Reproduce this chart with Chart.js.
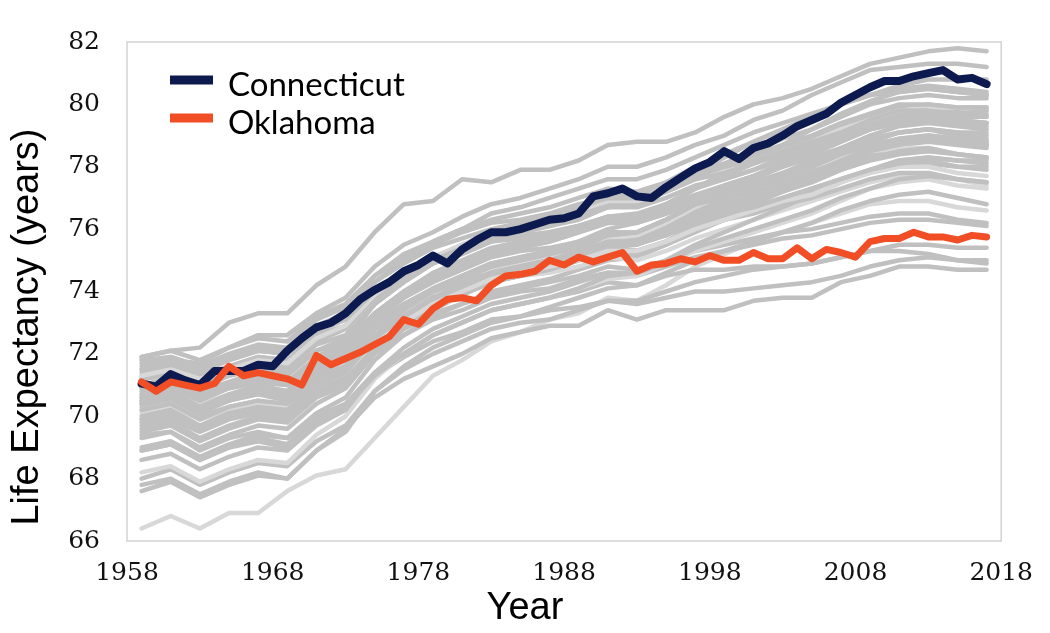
<!DOCTYPE html>
<html>
<head>
<meta charset="utf-8">
<script src="https://cdn.jsdelivr.net/npm/chart.js@4.4.1/dist/chart.umd.min.js"></script>
<style>
  html, body { margin: 0; padding: 0; background: #fff; }
  #wrap { width: 1050px; height: 633px; }
</style>
</head>
<body>
<div id="wrap"><canvas id="lifeChart" width="1050" height="633"></canvas></div>
<script>
// ── Data ───────────────────────────────────────────────────
const years = [1959, 1960, 1961, 1962, 1963, 1964, 1965, 1966, 1967, 1968,
               1969, 1970, 1971, 1972, 1973, 1974, 1975, 1976, 1977, 1978,
               1979, 1980, 1981, 1982, 1983, 1984, 1985, 1986, 1987, 1988,
               1989, 1990, 1991, 1992, 1993, 1994, 1995, 1996, 1997, 1998,
               1999, 2000, 2001, 2002, 2003, 2004, 2005, 2006, 2007, 2008,
               2009, 2010, 2011, 2012, 2013, 2014, 2015, 2016, 2017];

const connecticut = [71.05, 70.95, 71.35, 71.15, 71.0, 71.45, 71.45, 71.45, 71.65, 71.6,
                     72.1, 72.5, 72.85, 73.0, 73.3, 73.75, 74.05, 74.3, 74.65, 74.85,
                     75.15, 74.9, 75.35, 75.65, 75.9, 75.9, 76.0, 76.15, 76.3, 76.35,
                     76.5, 77.05, 77.15, 77.3, 77.05, 77.0, 77.35, 77.65, 77.95, 78.15,
                     78.5, 78.25, 78.6, 78.75, 79.0, 79.3, 79.5, 79.7, 80.05, 80.3,
                     80.55, 80.75, 80.75, 80.9, 81.0, 81.1, 80.8, 80.85, 80.65];

const oklahoma = [71.1, 70.8, 71.1, 71.0, 70.9, 71.05, 71.6, 71.3, 71.4, 71.3,
                  71.2, 71.0, 71.95, 71.65, 71.85, 72.05, 72.3, 72.55, 73.1, 72.95,
                  73.45, 73.75, 73.8, 73.7, 74.2, 74.5, 74.55, 74.65, 75.0, 74.85,
                  75.1, 74.95, 75.1, 75.25, 74.65, 74.85, 74.9, 75.05, 74.95, 75.15,
                  75.0, 75.0, 75.25, 75.05, 75.05, 75.4, 75.05, 75.35, 75.25, 75.1,
                  75.6, 75.7, 75.7, 75.9, 75.75, 75.75, 75.65, 75.8, 75.75];

// other states, read every second year
const grayYears = [1959, 1961, 1963, 1965, 1967, 1969, 1971, 1973, 1975, 1977,
                   1979, 1981, 1983, 1985, 1987, 1989, 1991, 1993, 1995, 1997,
                   1999, 2001, 2003, 2005, 2007, 2009, 2011, 2013, 2015, 2017];

const otherStates = [
  [71.9, 72.1, 72.2, 73.0, 73.3, 73.3, 74.2, 74.8, 75.9, 76.8, 76.9, 77.6, 77.5, 77.9, 77.9, 78.2, 78.7, 78.8, 78.8, 79.1, 79.6, 80.0, 80.2, 80.5, 80.9, 81.3, 81.5, 81.7, 81.8, 81.7],
  [71.6, 71.8, 71.7, 72.2, 72.6, 72.6, 73.3, 73.8, 74.8, 75.5, 75.9, 76.4, 76.8, 77.0, 77.3, 77.6, 78.0, 78.0, 78.3, 78.7, 79.0, 79.5, 79.8, 80.3, 80.7, 81.1, 81.2, 81.3, 81.3, 81.2],
  [71.9, 72.1, 71.8, 72.2, 72.5, 72.4, 73.2, 73.6, 74.5, 75.2, 75.6, 76.0, 76.3, 76.5, 76.7, 77.0, 77.3, 77.2, 77.5, 77.9, 78.1, 78.4, 78.7, 79.0, 79.4, 79.7, 80.0, 80.0, 79.9, 79.9],
  [71.8, 71.9, 71.6, 71.9, 72.2, 72.1, 72.9, 73.3, 74.3, 74.9, 75.4, 75.7, 76.0, 76.2, 76.4, 76.7, 77.0, 77.0, 77.2, 77.6, 77.8, 78.1, 78.4, 78.7, 79.0, 79.3, 79.6, 79.7, 79.6, 79.6],
  [71.7, 71.9, 71.6, 72.0, 72.3, 72.2, 73.1, 73.5, 74.5, 75.1, 75.5, 75.9, 76.2, 76.3, 76.5, 76.8, 77.0, 77.0, 77.3, 77.7, 78.0, 78.2, 78.5, 78.8, 79.1, 79.5, 79.8, 79.8, 79.7, 79.8],
  [71.8, 71.8, 71.5, 71.8, 72.1, 72.0, 72.7, 73.1, 74.0, 74.6, 75.0, 75.4, 75.6, 75.8, 75.9, 76.1, 76.3, 76.2, 76.5, 76.8, 77.0, 77.2, 77.4, 77.6, 77.9, 78.2, 78.4, 78.5, 78.4, 78.3],
  [71.5, 71.7, 71.4, 71.8, 72.1, 72.0, 72.8, 73.3, 74.3, 75.0, 75.6, 76.0, 76.5, 76.7, 77.0, 77.3, 77.6, 77.6, 77.9, 78.3, 78.7, 79.1, 79.4, 79.7, 80.0, 80.3, 80.4, 80.5, 80.4, 80.3],
  [71.3, 71.5, 71.2, 71.5, 71.8, 71.7, 72.5, 72.9, 73.9, 74.6, 75.1, 75.5, 75.9, 76.1, 76.3, 76.6, 76.9, 76.9, 77.2, 77.6, 77.9, 78.2, 78.5, 78.8, 79.2, 79.5, 79.8, 79.9, 79.9, 79.8],
  [71.4, 71.6, 71.2, 71.6, 71.9, 71.8, 72.6, 72.9, 73.9, 74.6, 75.1, 75.5, 75.8, 76.0, 76.2, 76.4, 76.7, 76.7, 77.0, 77.4, 77.6, 77.9, 78.2, 78.5, 78.9, 79.2, 79.4, 79.5, 79.4, 79.4],
  [71.0, 71.2, 70.8, 71.1, 71.4, 71.3, 72.1, 72.5, 73.6, 74.4, 75.0, 75.5, 75.9, 76.1, 76.4, 76.7, 77.1, 77.1, 77.5, 78.0, 78.4, 78.8, 79.2, 79.6, 80.0, 80.3, 80.5, 80.6, 80.5, 80.4],
  [70.9, 71.0, 70.6, 70.9, 71.1, 71.0, 71.9, 72.4, 73.6, 74.3, 74.9, 75.3, 75.7, 75.9, 76.1, 76.3, 76.7, 76.8, 77.2, 77.8, 78.3, 78.8, 79.2, 79.6, 80.0, 80.3, 80.6, 80.8, 80.8, 80.8],
  [70.6, 70.8, 70.3, 70.6, 70.9, 70.8, 71.6, 72.0, 73.1, 73.8, 74.3, 74.7, 75.1, 75.3, 75.4, 75.6, 76.0, 76.2, 76.7, 77.3, 77.8, 78.2, 78.7, 79.2, 79.7, 80.1, 80.4, 80.5, 80.4, 80.3],
  [70.5, 70.7, 70.2, 70.5, 70.8, 70.7, 71.4, 71.8, 72.8, 73.5, 74.0, 74.4, 74.8, 75.0, 75.2, 75.4, 75.8, 75.9, 76.3, 76.8, 77.3, 77.7, 78.1, 78.5, 79.0, 79.4, 79.7, 79.8, 79.8, 79.7],
  [71.2, 71.3, 70.9, 71.3, 71.6, 71.5, 72.3, 72.6, 73.6, 74.3, 74.9, 75.3, 75.7, 75.9, 76.1, 76.4, 76.8, 76.8, 77.2, 77.7, 78.1, 78.5, 78.9, 79.2, 79.6, 80.0, 80.2, 80.3, 80.2, 80.2],
  [71.3, 71.4, 71.0, 71.3, 71.5, 71.4, 72.1, 72.4, 73.3, 74.0, 74.5, 74.8, 75.2, 75.4, 75.6, 75.9, 76.2, 76.2, 76.5, 76.9, 77.2, 77.5, 77.8, 78.1, 78.5, 78.8, 79.1, 79.2, 79.1, 79.1],
  [71.0, 71.2, 70.8, 71.0, 71.3, 71.1, 71.8, 72.1, 73.0, 73.6, 74.0, 74.3, 74.6, 74.8, 75.0, 75.3, 75.6, 75.6, 75.8, 76.2, 76.5, 76.7, 77.0, 77.3, 77.6, 77.9, 78.1, 78.2, 78.0, 77.9],
  [70.7, 70.9, 70.5, 70.9, 71.1, 71.0, 71.8, 72.2, 73.2, 73.9, 74.5, 74.9, 75.3, 75.5, 75.7, 76.0, 76.4, 76.4, 76.8, 77.3, 77.7, 78.1, 78.5, 78.8, 79.2, 79.5, 79.7, 79.8, 79.7, 79.6],
  [70.4, 70.6, 70.2, 70.6, 70.9, 70.8, 71.6, 72.0, 73.1, 73.8, 74.4, 74.8, 75.2, 75.4, 75.6, 75.9, 76.2, 76.3, 76.6, 77.0, 77.4, 77.7, 78.1, 78.4, 78.8, 79.2, 79.4, 79.5, 79.4, 79.3],
  [70.6, 70.8, 70.3, 70.7, 71.0, 70.8, 71.5, 71.8, 72.8, 73.5, 74.1, 74.5, 74.9, 75.1, 75.3, 75.6, 75.9, 75.9, 76.3, 76.8, 77.1, 77.4, 77.7, 78.0, 78.4, 78.7, 78.9, 79.0, 78.9, 78.8],
  [70.2, 70.4, 69.9, 70.3, 70.5, 70.4, 71.1, 71.5, 72.5, 73.2, 73.8, 74.2, 74.6, 74.8, 75.0, 75.2, 75.5, 75.5, 75.8, 76.3, 76.6, 76.9, 77.2, 77.5, 77.9, 78.3, 78.5, 78.6, 78.4, 78.3],
  [70.0, 70.2, 69.7, 70.1, 70.3, 70.2, 71.0, 71.4, 72.5, 73.2, 73.8, 74.2, 74.6, 74.8, 75.0, 75.2, 75.5, 75.6, 75.9, 76.5, 76.9, 77.3, 77.7, 78.0, 78.4, 78.8, 79.1, 79.2, 79.1, 79.0],
  [70.2, 70.4, 69.9, 70.2, 70.4, 70.3, 71.0, 71.4, 72.4, 73.0, 73.6, 74.0, 74.4, 74.6, 74.8, 75.0, 75.3, 75.3, 75.6, 76.0, 76.3, 76.6, 76.9, 77.1, 77.5, 77.8, 78.0, 78.0, 77.8, 77.7],
  [70.5, 70.7, 70.2, 70.6, 70.8, 70.6, 71.3, 71.6, 72.6, 73.2, 73.8, 74.1, 74.5, 74.7, 74.8, 75.1, 75.4, 75.3, 75.6, 76.0, 76.3, 76.5, 76.8, 77.0, 77.3, 77.6, 77.8, 77.8, 77.6, 77.5],
  [70.4, 70.6, 70.1, 70.5, 70.7, 70.5, 71.2, 71.6, 72.6, 73.2, 73.8, 74.1, 74.5, 74.6, 74.8, 75.1, 75.4, 75.3, 75.6, 76.1, 76.4, 76.7, 77.0, 77.3, 77.6, 77.9, 78.1, 78.1, 78.0, 78.0],
  [69.6, 69.8, 69.3, 69.7, 70.0, 69.9, 70.7, 71.1, 72.2, 72.9, 73.5, 73.9, 74.3, 74.5, 74.7, 75.0, 75.3, 75.3, 75.6, 76.1, 76.5, 76.9, 77.3, 77.7, 78.1, 78.5, 78.8, 78.9, 78.8, 78.7],
  [69.9, 70.1, 69.6, 70.0, 70.3, 70.1, 70.9, 71.3, 72.5, 73.2, 73.7, 74.0, 74.4, 74.6, 74.8, 75.1, 75.5, 75.6, 76.0, 76.4, 76.7, 77.0, 77.4, 77.7, 78.1, 78.5, 78.7, 78.9, 78.8, 78.7],
  [69.8, 70.0, 69.6, 70.0, 70.3, 70.2, 71.0, 71.5, 72.6, 73.4, 74.0, 74.4, 74.8, 75.0, 75.2, 75.5, 75.8, 75.9, 76.3, 76.8, 77.2, 77.6, 78.0, 78.4, 78.8, 79.2, 79.5, 79.6, 79.5, 79.4],
  [69.3, 69.5, 69.0, 69.4, 69.7, 69.6, 70.4, 70.9, 72.0, 72.8, 73.4, 73.9, 74.3, 74.5, 74.8, 75.1, 75.4, 75.5, 75.9, 76.4, 76.8, 77.1, 77.5, 77.8, 78.2, 78.6, 78.9, 79.0, 78.9, 78.8],
  [69.5, 69.7, 69.2, 69.6, 69.9, 69.8, 70.6, 71.0, 72.1, 72.9, 73.5, 73.9, 74.3, 74.5, 74.7, 75.0, 75.2, 75.2, 75.5, 75.9, 76.3, 76.6, 76.9, 77.2, 77.6, 77.9, 78.2, 78.3, 78.2, 78.2],
  [68.9, 69.1, 68.6, 69.0, 69.3, 69.1, 69.9, 70.3, 71.3, 72.0, 72.6, 73.0, 73.4, 73.6, 73.8, 74.1, 74.5, 74.6, 75.0, 75.5, 75.9, 76.3, 76.7, 77.1, 77.5, 77.9, 78.2, 78.3, 78.2, 78.1],
  [68.6, 68.8, 68.3, 68.7, 69.0, 68.9, 69.7, 70.2, 71.4, 72.2, 72.8, 73.2, 73.6, 73.8, 74.0, 74.3, 74.6, 74.6, 74.9, 75.4, 75.7, 76.0, 76.3, 76.6, 77.0, 77.3, 77.6, 77.7, 77.6, 77.5],
  [68.2, 68.4, 67.9, 68.3, 68.6, 68.5, 69.4, 70.0, 71.2, 72.0, 72.6, 73.0, 73.4, 73.6, 73.8, 74.1, 74.4, 74.5, 74.9, 75.3, 75.6, 75.9, 76.2, 76.5, 76.9, 77.3, 77.5, 77.6, 77.4, 77.3],
  [67.6, 67.9, 67.4, 67.8, 68.1, 68.0, 68.9, 69.5, 70.8, 71.6, 72.2, 72.6, 73.0, 73.2, 73.5, 73.8, 74.1, 74.2, 74.6, 75.0, 75.3, 75.6, 75.9, 76.2, 76.6, 76.9, 77.1, 77.2, 77.0, 76.8],
  [68.0, 68.3, 67.8, 68.2, 68.5, 68.4, 69.2, 69.7, 70.8, 71.5, 72.0, 72.4, 72.8, 73.0, 73.1, 73.4, 73.7, 73.7, 74.0, 74.3, 74.5, 74.7, 74.8, 74.9, 75.1, 75.3, 75.5, 75.5, 75.4, 75.4],
  [67.8, 68.0, 67.5, 67.9, 68.2, 68.0, 68.9, 69.6, 70.6, 71.2, 71.6, 72.0, 72.5, 72.7, 72.9, 72.9, 73.4, 73.1, 73.4, 73.4, 73.4, 73.7, 73.8, 73.8, 74.3, 74.5, 74.8, 74.8, 74.7, 74.7],
  [68.9, 69.1, 68.6, 69.0, 69.2, 69.0, 69.8, 70.3, 71.3, 71.9, 72.4, 72.7, 73.1, 73.2, 73.4, 73.5, 73.7, 73.6, 73.8, 74.0, 74.0, 74.1, 74.2, 74.3, 74.5, 74.8, 75.0, 75.1, 75.0, 75.0],
  [69.4, 69.5, 68.9, 69.3, 69.5, 69.3, 70.0, 70.4, 71.4, 72.0, 72.6, 73.0, 73.4, 73.6, 73.8, 74.0, 74.3, 74.2, 74.5, 74.7, 74.7, 74.8, 74.8, 74.9, 75.1, 75.3, 75.3, 75.2, 75.0, 74.9],
  [69.9, 70.1, 69.6, 70.0, 70.2, 70.0, 70.7, 71.1, 72.0, 72.6, 73.1, 73.4, 73.8, 74.0, 74.1, 74.4, 74.6, 74.5, 74.8, 75.1, 75.3, 75.5, 75.7, 75.8, 76.0, 76.2, 76.3, 76.3, 76.2, 76.1],
  [70.3, 70.5, 70.0, 70.3, 70.5, 70.3, 71.0, 71.3, 72.2, 72.8, 73.3, 73.6, 73.9, 74.1, 74.3, 74.5, 74.8, 74.7, 75.0, 75.3, 75.5, 75.7, 75.9, 76.0, 76.2, 76.4, 76.5, 76.5, 76.3, 76.2],
  [66.4, 66.8, 66.4, 66.9, 66.9, 67.6, 68.1, 68.3, 69.3, 70.3, 71.3, 71.8, 72.4, 72.7, 73.1, 73.3, 73.8, 73.7, 74.2, 74.8, 75.2, 75.6, 75.9, 76.2, 76.5, 76.8, 76.9, 76.9, 76.7, 76.6],
  [71.2, 71.4, 71.0, 71.4, 71.7, 71.6, 72.4, 72.8, 73.8, 74.5, 75.0, 75.4, 75.8, 76.0, 76.2, 76.5, 76.8, 76.9, 77.2, 77.6, 78.0, 78.3, 78.6, 78.9, 79.3, 79.6, 79.9, 80.0, 79.9, 79.9],
  [70.8, 71.0, 70.6, 71.0, 71.2, 71.1, 71.9, 72.3, 73.3, 74.0, 74.6, 75.0, 75.4, 75.6, 75.8, 76.1, 76.4, 76.5, 76.8, 77.3, 77.6, 77.9, 78.3, 78.6, 79.0, 79.3, 79.5, 79.6, 79.5, 79.4],
  [71.5, 71.6, 71.3, 71.6, 71.9, 71.8, 72.5, 72.9, 73.8, 74.4, 74.9, 75.2, 75.6, 75.7, 75.9, 76.1, 76.4, 76.4, 76.7, 77.1, 77.4, 77.7, 78.0, 78.3, 78.6, 78.9, 79.1, 79.2, 79.0, 78.9],
  [70.1, 70.3, 69.9, 70.2, 70.4, 70.3, 71.1, 71.5, 72.6, 73.3, 73.9, 74.3, 74.7, 74.9, 75.1, 75.4, 75.7, 75.8, 76.2, 76.7, 77.1, 77.4, 77.7, 78.0, 78.3, 78.5, 78.6, 78.6, 78.4, 78.3],
  [70.9, 71.1, 70.7, 71.0, 71.2, 71.0, 71.7, 72.0, 72.9, 73.6, 74.1, 74.5, 74.9, 75.1, 75.3, 75.6, 75.9, 75.9, 76.3, 76.7, 77.0, 77.3, 77.6, 77.9, 78.3, 78.6, 78.8, 78.9, 78.8, 78.7],
  [69.7, 69.9, 69.5, 69.9, 70.1, 70.0, 70.8, 71.2, 72.3, 73.0, 73.6, 74.0, 74.4, 74.6, 74.9, 75.2, 75.6, 75.7, 76.1, 76.6, 77.0, 77.4, 77.8, 78.2, 78.6, 79.0, 79.3, 79.4, 79.3, 79.2],
  [70.7, 70.8, 70.4, 70.7, 70.9, 70.7, 71.4, 71.7, 72.6, 73.2, 73.7, 74.0, 74.3, 74.5, 74.6, 74.8, 75.1, 75.0, 75.3, 75.7, 76.0, 76.3, 76.6, 76.9, 77.2, 77.5, 77.7, 77.8, 77.6, 77.4],
  [69.0, 69.2, 68.7, 69.1, 69.4, 69.3, 70.1, 70.6, 71.8, 72.6, 73.2, 73.6, 74.0, 74.2, 74.4, 74.7, 75.0, 75.1, 75.5, 76.0, 76.4, 76.8, 77.2, 77.6, 78.0, 78.4, 78.7, 78.8, 78.7, 78.6]
];

const xTicks = [1958, 1968, 1978, 1988, 1998, 2008, 2018];
const yTicks = [66, 68, 70, 72, 74, 76, 78, 80, 82];

// ── Styles ─────────────────────────────────────────────────
const GRAY = '#c0c0c0';
const GRAY_LIGHT = '#d8d8d8';
const lighterLines = [7, 21, 31, 39, 43, 46];
const CT_COLOR = '#0c1a50';
const OK_COLOR = '#f24e26';
const TICK_FONT = { family: '"DejaVu Serif", "Liberation Serif", serif', size: 25 };

const toPoints = (xs, ys) => ys.map((v, i) => ({ x: xs[i], y: v }));

const datasets = otherStates.map((vals, i) => ({
    label: '',
    data: toPoints(grayYears, vals),
    borderColor: lighterLines.includes(i) ? GRAY_LIGHT : GRAY,
    borderWidth: 4.5,
    pointRadius: 0,
    borderJoinStyle: 'round',
    borderCapStyle: 'round',
    tension: 0,
    order: 2
}));

datasets.push({
    label: 'Connecticut', data: toPoints(years, connecticut),
    borderColor: CT_COLOR, backgroundColor: CT_COLOR,
    borderWidth: 8, pointRadius: 0, borderJoinStyle: 'round', borderCapStyle: 'round', order: 1
});
datasets.push({
    label: 'Oklahoma', data: toPoints(years, oklahoma),
    borderColor: OK_COLOR, backgroundColor: OK_COLOR,
    borderWidth: 7, pointRadius: 0, borderJoinStyle: 'round', borderCapStyle: 'round', order: 0
});

// ── Frame, axis titles, legend ─────────────────────────────
const decor = {
    id: 'decor',
    beforeDatasetsDraw(chart) {
        const { ctx, chartArea: a } = chart;
        ctx.save();
        ctx.strokeStyle = '#d3d3d3';
        ctx.lineWidth = 1.5;
        ctx.strokeRect(a.left, a.top, a.right - a.left, a.bottom - a.top);
        ctx.restore();
    },
    afterDraw(chart) {
        const { ctx } = chart;
        ctx.save();
        ctx.fillStyle = '#000';
        ctx.font = '38px "Liberation Sans", Arial, sans-serif';
        ctx.textAlign = 'center';
        ctx.textBaseline = 'alphabetic';
        ctx.fillText('Year', 525, 619);
        ctx.save();
        ctx.translate(38, 327);
        ctx.rotate(-Math.PI / 2);
        ctx.fillText('Life Expectancy (years)', 0, 0);
        ctx.restore();

        // legend (only the two highlighted states)
        const items = chart.data.datasets.filter(d => d.label);
        ctx.font = '33px Lato, "Open Sans", sans-serif';
        ctx.textAlign = 'left';
        items.forEach((d, i) => {
            const cy = 80 + i * 38;
            ctx.fillStyle = d.borderColor;
            ctx.fillRect(170, cy - 4.5, 43, 9);
            ctx.fillStyle = '#000';
            ctx.fillText(d.label, 228, cy + 15.5);
        });
        ctx.restore();
    }
};

new Chart(document.getElementById('lifeChart'), {
    type: 'line',
    data: { datasets },
    options: {
        responsive: false,
        animation: false,
        layout: { padding: { left: 0, right: 38, top: 24, bottom: 0 } },
        plugins: { legend: { display: false }, tooltip: { enabled: false } },
        scales: {
            x: {
                type: 'linear', min: 1958, max: 2018,
                afterBuildTicks: s => { s.ticks = xTicks.map(v => ({ value: v })); },
                afterFit: s => { s.height = 92; },
                grid: { display: false, drawTicks: false },
                border: { display: false },
                ticks: { padding: 17, color: '#111', font: TICK_FONT, callback: v => String(v) }
            },
            y: {
                type: 'linear', min: 66, max: 82,
                afterBuildTicks: s => { s.ticks = yTicks.map(v => ({ value: v })); },
                afterFit: s => { s.width = 127; },
                grid: { display: false, drawTicks: false },
                border: { display: false },
                ticks: { padding: 27, color: '#111', font: TICK_FONT, callback: v => String(v) }
            }
        }
    },
    plugins: [decor]
});
</script>
</body>
</html>
